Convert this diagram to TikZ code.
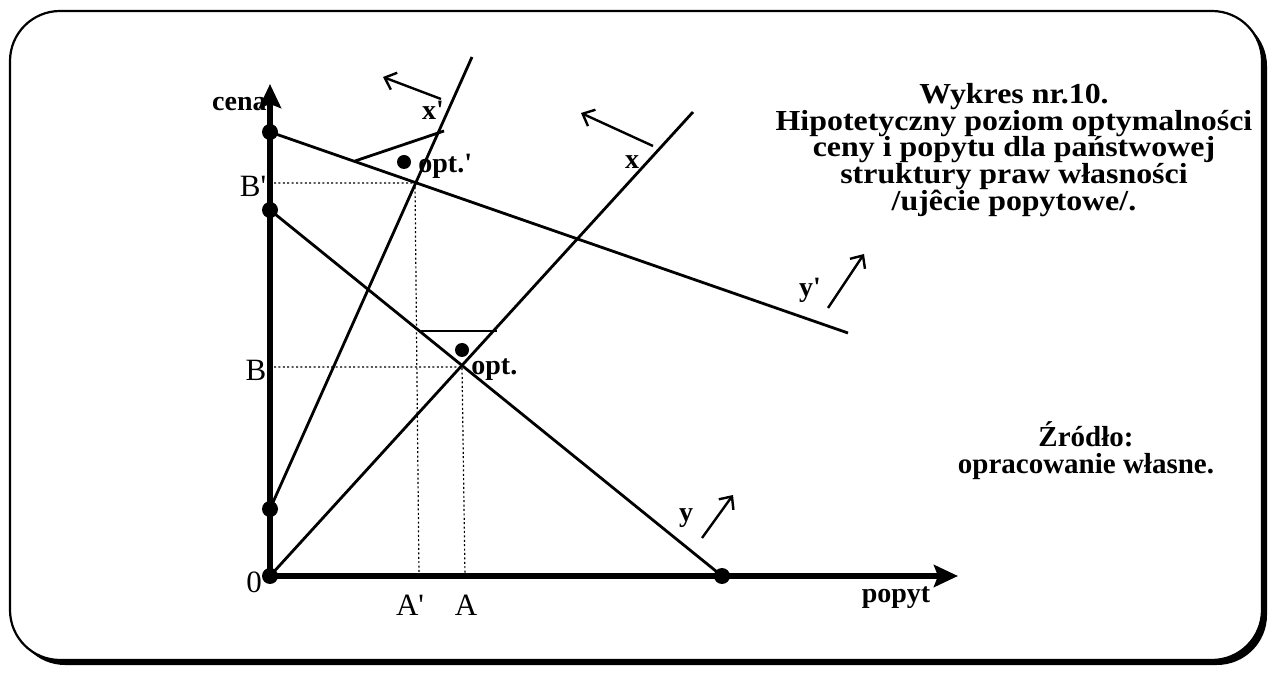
\documentclass[tikz,border=0pt]{standalone}
\usepackage{fontspec}
\setmainfont{Liberation Serif}
\newfontfamily\widefont[FakeStretch=1.1]{Liberation Serif}
\usetikzlibrary{arrows.meta}
\newcommand{\pr}{\textquotesingle}
\tikzset{
  axisline/.style={line width=3pt,-{Stealth[length=12pt,width=11pt,inset=2pt]}},
  curve/.style={line width=1.4pt},
  guide/.style={line width=0.6pt,dash pattern=on 1pt off 1.2pt},
  shiftarrow/.style={line width=1.2pt,-{Straight Barb[length=5pt,width=9pt]}},
  dotpt/.style={circle,fill=black,inner sep=0pt,minimum size=8pt},
  lbl/.style={font=\fontsize{14}{14}\selectfont\bfseries,inner sep=0pt},
  axl/.style={font=\fontsize{15.5}{15.5}\selectfont,inner sep=0pt},
  txtblock/.style={align=center,inner sep=0pt,font=\widefont\fontsize{14.5}{13.4}\selectfont\bfseries},
  srcblock/.style={align=center,inner sep=0pt,font=\fontsize{14.5}{13.4}\selectfont\bfseries},
}
\begin{document}
\begin{tikzpicture}[x=0.5pt,y=-0.5pt]
\useasboundingbox (0,0) rectangle (1270,673);
% frame with shadow
\fill[black,rounded corners=25pt] (15,16) rectangle (1267,665);
\draw[line width=1.1pt,fill=white,rounded corners=25pt] (10,11) rectangle (1262,660);

% coordinates
\coordinate (O) at (270,576);
\coordinate (Ytip) at (270,84);
\coordinate (Xtip) at (958,576);
\coordinate (Bp) at (270,132);
\coordinate (Bu) at (270,210);
\coordinate (Bl) at (270,509);
\coordinate (Xe) at (722,576);
\coordinate (Xend) at (693,112);
\coordinate (XPend) at (472,57);
\coordinate (YPend) at (848,333);
\coordinate (opt) at (462,367);
\coordinate (optp) at (415,183);
\coordinate (Bpl) at (274,183);
\coordinate (Bl2) at (274,367);
\coordinate (Apx) at (419,576);
\coordinate (Ax) at (465,576);
\coordinate (T1) at (420,331);
\coordinate (T2) at (497,331);
\coordinate (U1) at (355,161);
\coordinate (U2) at (444,131);

% guides
\draw[guide] (Bpl) -- (optp) -- (Apx);
\draw[guide] (Bl2) -- (opt) -- (Ax);

% curves
\draw[curve] (Bp) -- (YPend);
\draw[curve] (Bu) -- (Xe);
\draw[curve] (O) -- (Xend);
\draw[curve] (Bl) -- (XPend);
\draw[curve] (T1) -- (T2);
\draw[curve] (U1) -- (U2);

% axes
\draw[axisline] (O) -- (Ytip);
\draw[axisline] (O) -- (Xtip);

% dots
\foreach \p in {O,Bp,Bu,Bl,Xe} \node[dotpt] at (\p) {};
\node[dotpt,minimum size=7pt] (d1) at (462,350) {};
\node[dotpt,minimum size=7pt] (d2) at (404,162) {};

% shift arrows
\coordinate (a1s) at (441,99);
\coordinate (a1e) at (383,77);
\coordinate (a2s) at (653,146);
\coordinate (a2e) at (581,113);
\coordinate (a3s) at (828,308);
\coordinate (a3e) at (864,254);
\coordinate (a4s) at (702,538);
\coordinate (a4e) at (733,495);
\draw[shiftarrow] (a1s) -- (a1e);
\draw[shiftarrow] (a2s) -- (a2e);
\draw[shiftarrow] (a3s) -- (a3e);
\draw[shiftarrow] (a4s) -- (a4e);

% labels
\node[lbl,anchor=base east] (cena) at (267,111) {cena};
\node[axl] (lBp) at (253,186) {B\pr};
\node[axl] (lB) at (256,370) {B};
\node[axl] (l0) at (254,582) {0};
\node[axl] (lAp) at (410,605) {A\pr};
\node[axl] (lA) at (466,605) {A};
\node[lbl] (popyt) at (896,598) {popyt};
\node[lbl,anchor=west] (lopt) at (471,370) {opt.};
\node[lbl,anchor=west] (loptp) at (418,166) {opt.\pr};
\node[lbl] (lxp) at (433,110) {x\pr};
\node[lbl] (lx) at (632,162) {x};
\node[lbl] (lyp) at (810,290) {y\pr};
\node[lbl] (ly) at (686,518) {y};

\node[txtblock] (title) at (1014,150)
 {Wykres nr.10.\\Hipotetyczny poziom optymalności\\ceny i popytu dla państwowej\\struktury praw własności\\/ujêcie popytowe/.};
\node[srcblock] (src) at (1086,451)
 {Źródło:\\opracowanie własne.};
\end{tikzpicture}
\end{document}
